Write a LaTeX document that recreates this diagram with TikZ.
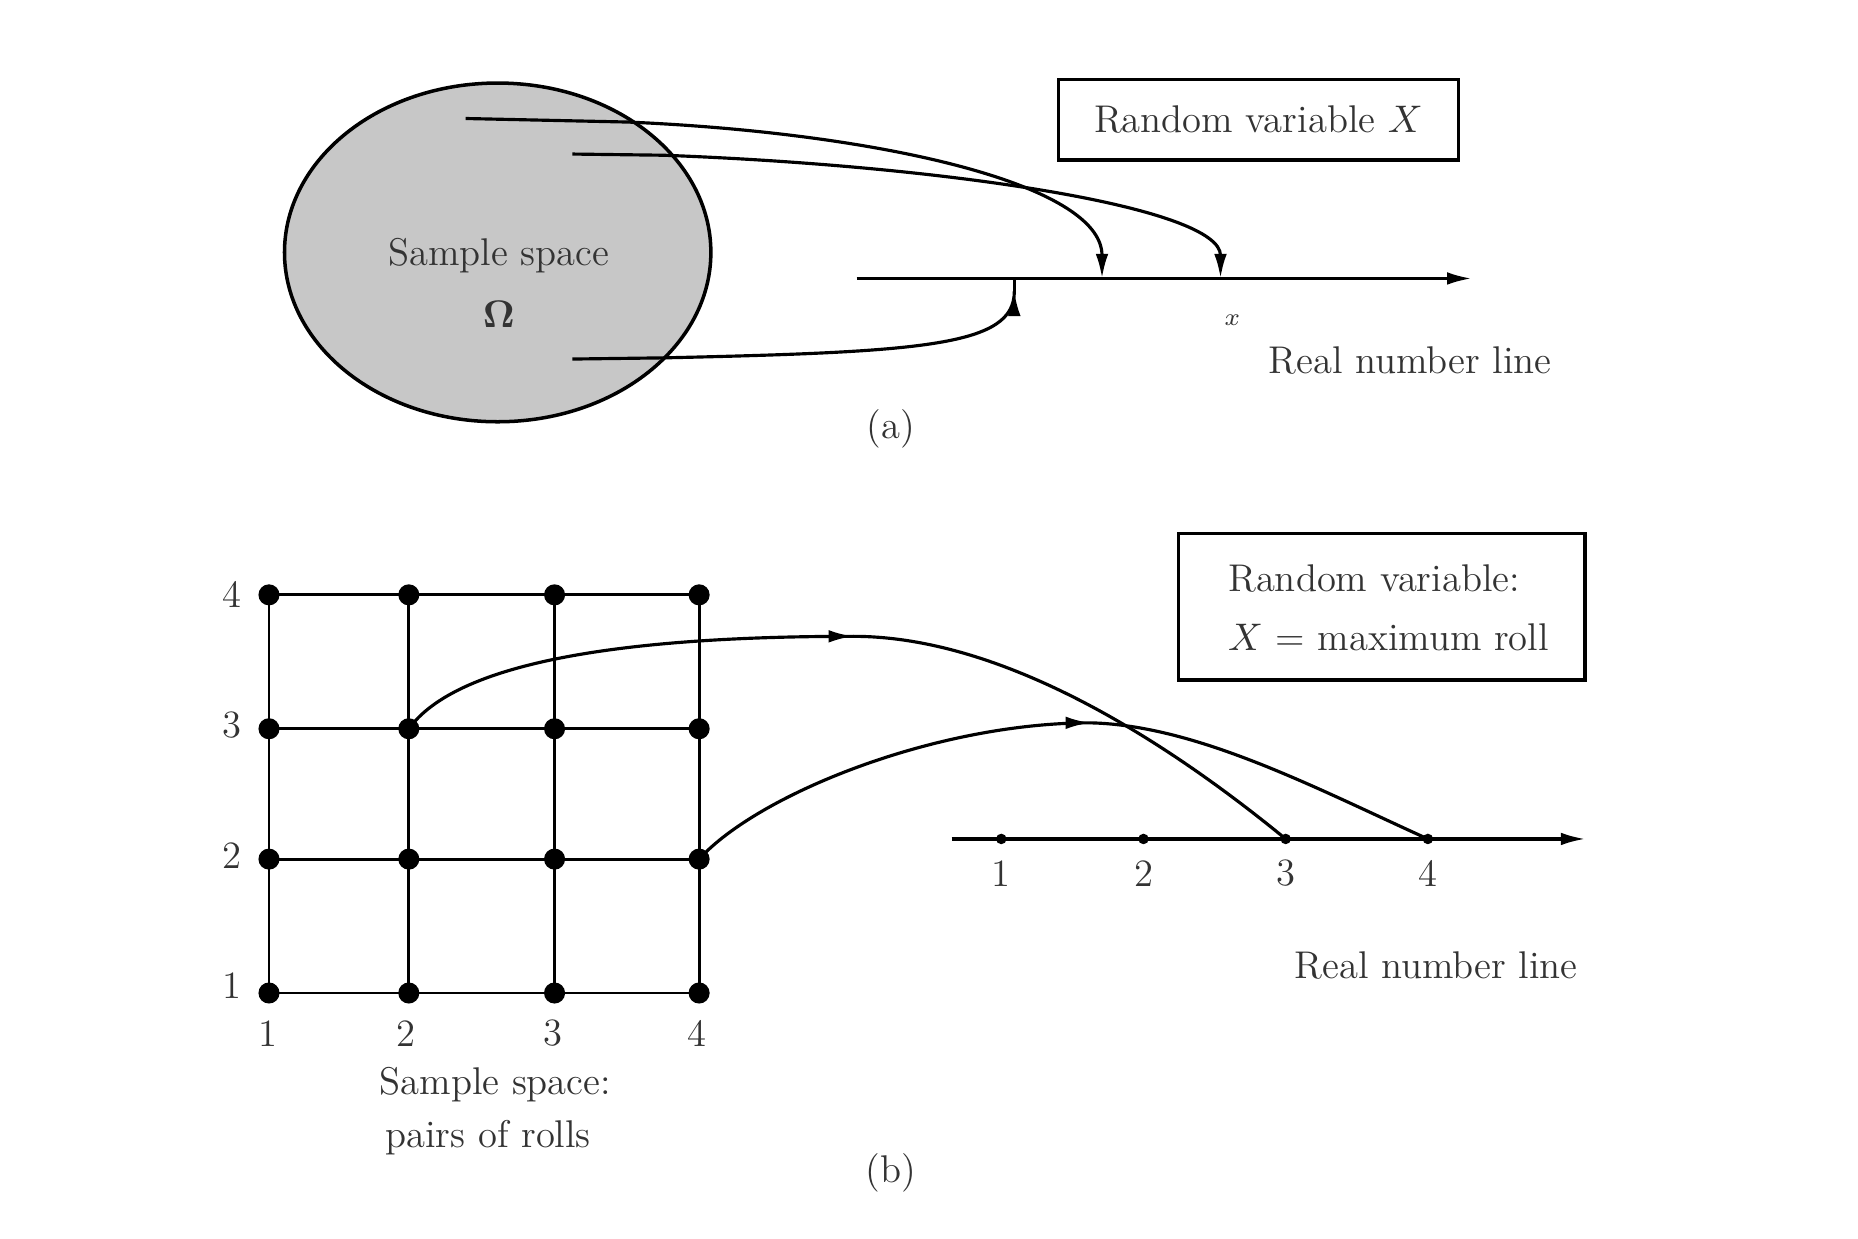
\documentclass[tikz,border=0pt]{standalone}
\usetikzlibrary{arrows.meta,shapes.geometric,decorations.markings}
\begin{document}
\begin{tikzpicture}[x=0.01185cm,y=-0.01185cm,
  every node/.style={font=\fontsize{11}{13}\selectfont, text=black!80},
  ln/.style={line width=0.9pt},
  arr/.style={ln,-{Latex[length=7pt,width=3.6pt]}},
  endarrow/.style={ln,postaction={decorate},
     decoration={markings,mark=at position 1 with {\arrow{Latex[length=7pt,width=3.6pt]}}}},
  dot/.style={circle,fill=black,inner sep=0pt,minimum size=6pt},
  tickdot/.style={circle,fill=black,inner sep=0pt,minimum size=3pt},
  boxed/.style={draw,line width=1pt,inner sep=0pt},
  gridline/.style={line width=0.8pt}]
\useasboundingbox (0,0) rectangle (1568,1045);

% ---------- (a) ----------
\node[ellipse, draw, line width=1pt, fill=black!22, minimum width=4.266cm,
      minimum height=3.389cm, inner sep=0pt] (omega) at (420,213) {};
\node (ss) at (421,216) {Sample space};
\node (om) at (421,265) {$\mathbf{\Omega}$};

\node[boxed, minimum width=4.005cm, minimum height=0.806cm] (rva) at (1062,101) {Random variable $X$};

\coordinate (a0) at (723,235);
\coordinate (a1) at (1242,235);
\draw[arr] (a0) -- (a1);

\coordinate (xa) at (930,235);
\coordinate (xb) at (1030,235);
\coordinate (xc) at (856,235);
\coordinate (xcm) at (856,246);
\coordinate (s1) at (393,100);
\coordinate (s2) at (483,130);
\coordinate (s3) at (483,303);

\draw[arr] (s1) -- (530,103) .. controls (740,112) and (930,155) .. (xa);
\draw[arr] (s2) -- (560,131) .. controls (800,140) and (1030,175) .. (xb);
\draw[endarrow] (s3) -- (560,302) .. controls (780,297) and (856,292) .. (xcm);
\draw[ln] (xcm) -- (xc);

\node[font=\fontsize{7}{8}\selectfont] (xlab) at (1040,270) {$x$};
\node (rnla) at (1190,304) {Real number line};
\node (capa) at (752,362) {(a)};

% ---------- (b) ----------
\foreach \i/\x in {1/227,2/345,3/468,4/590}
  \foreach \j/\y in {1/838,2/725,3/615,4/502}
    \node[dot] (g\i\j) at (\x,\y) {};
\foreach \j in {1,...,4} \draw[gridline] (g1\j.center) -- (g4\j.center);
\foreach \i in {1,...,4} \draw[gridline] (g\i1.center) -- (g\i4.center);

\foreach \j/\y in {1/832,2/722,3/612,4/502} \node (yl\j) at (196,\y) {\j};
\foreach \i/\x in {1/226,2/343,3/467,4/588} \node (xl\i) at (\x,872) {\i};
\node (ssb1) at (418,915) {Sample space:};
\node (ssb2) at (412,960) {pairs of rolls};

\coordinate (b0) at (803,708);
\coordinate (b1) at (1338,708);
\draw[arr] (b0) -- (b1);
\foreach \k/\x in {1/845,2/965,3/1085,4/1205} {
  \node[tickdot] (t\k) at (\x,708) {};
  \node (tl\k) at (\x,737) {\k};
}

\coordinate (m1) at (720,537);
\coordinate (m2) at (920,610);
\draw[endarrow] (g23.center) .. controls (385,560) and (520,537) .. (m1);
\draw[ln] (m1) .. controls (850,537) and (990,630) .. (t3.center);
\draw[endarrow] (g42.center) .. controls (640,670) and (790,610) .. (m2);
\draw[ln] (m2) .. controls (1010,612) and (1110,665) .. (t4.center);

\node[boxed, minimum width=4.065cm, minimum height=1.469cm] (rvb) at (1166,512) {};
\node[anchor=west] (rvb1) at (1026,488) {Random variable:};
\node[anchor=west] (rvb2) at (1026,538) {$X$ = maximum roll};

\node (rnlb) at (1212,815) {Real number line};
\node (capb) at (752,990) {(b)};
\end{tikzpicture}
\end{document}
